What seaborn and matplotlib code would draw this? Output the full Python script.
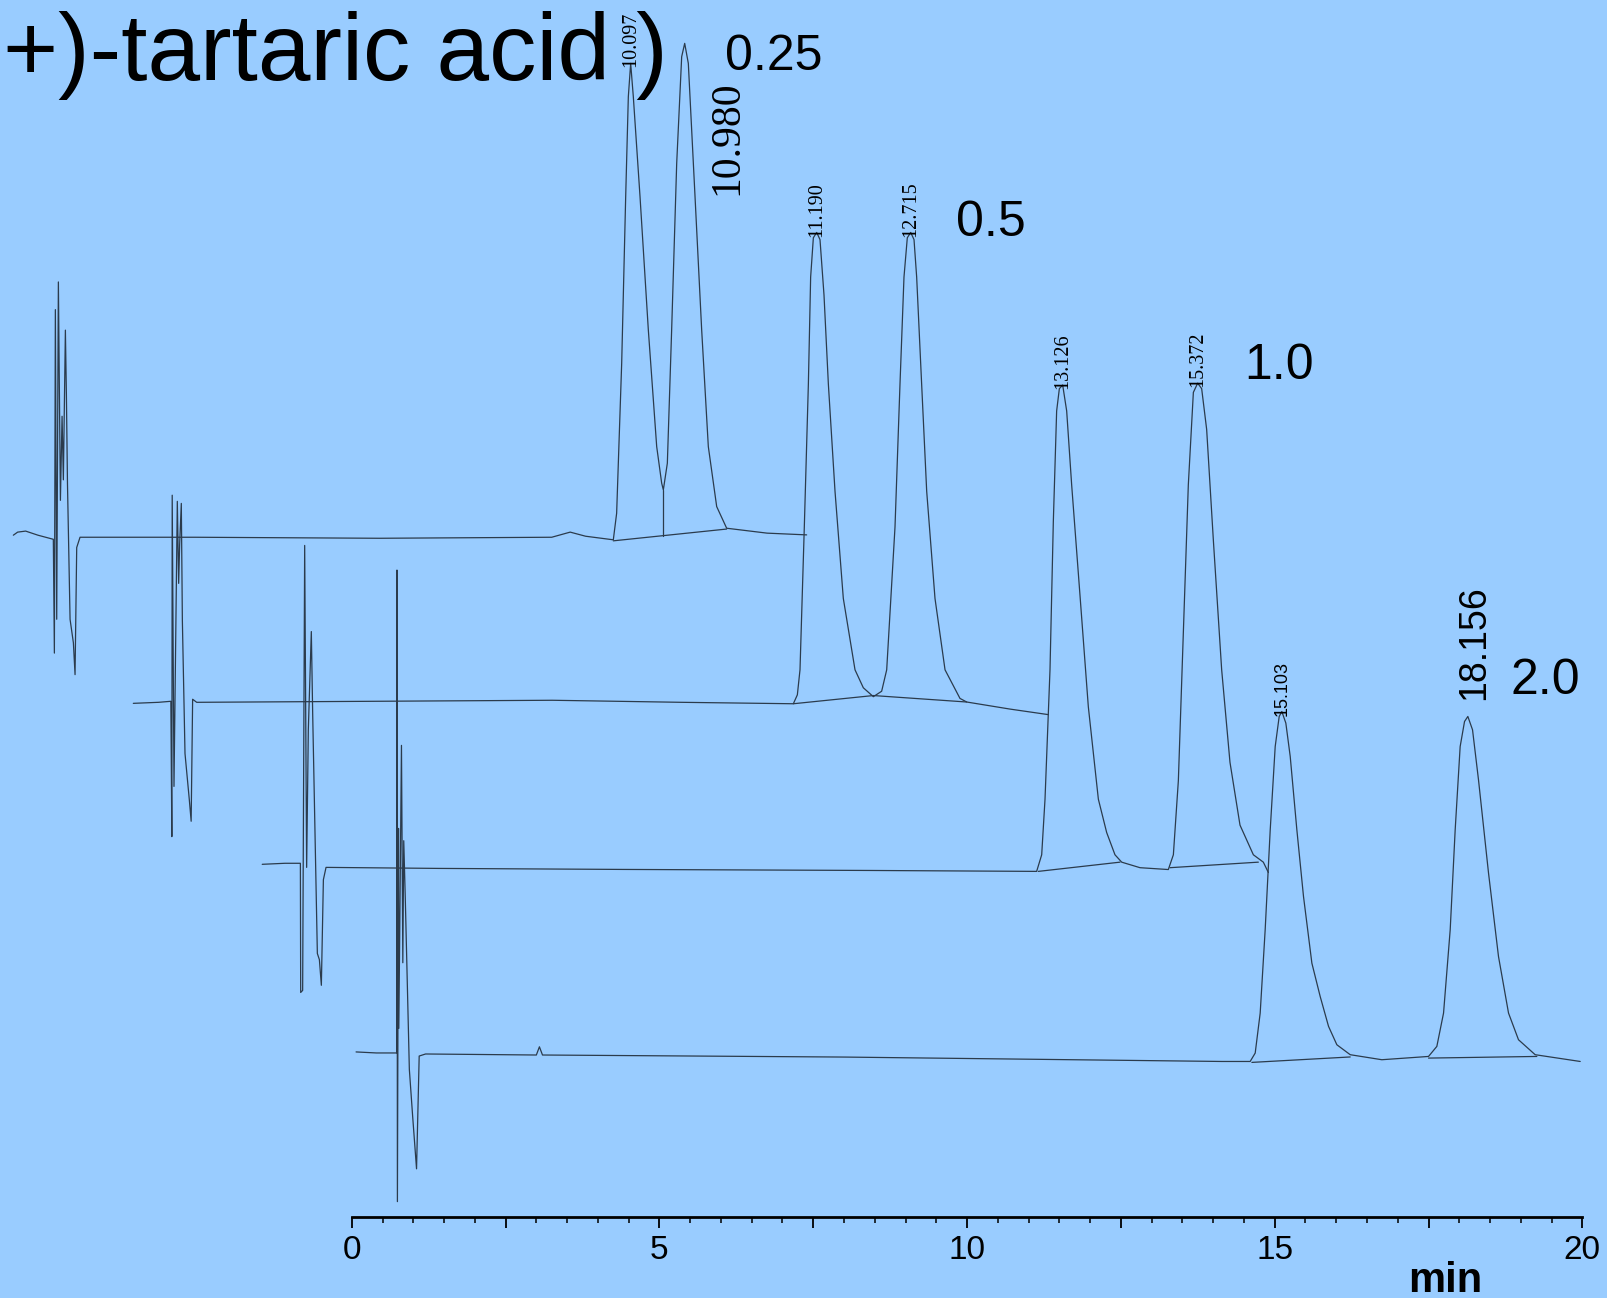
import pandas as pd
import matplotlib
matplotlib.use("Agg")
from matplotlib import pyplot as plt
from matplotlib.ticker import FixedLocator, FuncFormatter
import seaborn as sns

# concentration of each run, bottom-left shift (min) and vertical offset of each trace
conc_labels = ["0.25", "0.5", "1.0", "2.0"]
time_shift = [5.55, 3.64, 1.585, 0.0]
level = [663, 502, 341, 158]

# traces: own retention time (min) and detector signal
t1 = [0.05, 0.12, 0.25, 0.45, 0.70, 0.717, 0.733, 0.755, 0.782, 0.815, 0.842, 0.863, 0.896, 0.912, 0.93,
      0.972, 1.026, 1.053, 1.08, 1.134, 3.0, 6.0, 8.8, 9.1, 9.35, 9.801, 9.855, 9.937, 10.002, 10.045,
      10.083, 10.126, 10.235, 10.370, 10.506, 10.587, 10.614, 10.679, 10.749, 10.831, 10.912, 10.961,
      11.020, 11.129, 11.237, 11.345, 11.481, 11.643, 12.3, 12.943]
s1 = [2, 5, 6, 2, -2, -113, 222, -80, 249, 36, 118, 56, 202, 141, 52,
      -80, -103, -134, -10, 0, 0, -1, 0, 5, 1, -2.5, 23.4, 169.7, 332.2, 429.7,
      462.2, 429.7, 332.2, 202.2, 88.4, 52.7, 46.2, 72.2, 202.2, 364.7, 468.7, 481.7,
      462.2, 332.2, 202.2, 88.4, 29.9, 8.8, 4, 2.3]

t2 = [0.09, 0.5, 0.70, 0.716, 0.722, 0.751, 0.805, 0.827, 0.843, 0.870, 0.887, 0.930, 1.0, 1.03, 1.054,
      1.12, 4.0, 6.9, 9.0, 10.817, 10.882, 10.925, 10.995, 11.061, 11.098, 11.142, 11.196, 11.250, 11.315,
      11.386, 11.494, 11.629, 11.819, 11.954, 12.117, 12.252, 12.334, 12.469, 12.550, 12.615, 12.669,
      12.724, 12.778, 12.821, 12.902, 12.984, 13.119, 13.282, 13.525, 13.634, 14.338, 14.96]
s2 = [-1, 0, 1, -131, 202, -82, 196, 116, 154, 194, 80, -50, -95, -116, 3,
      0, 1, 2, 0, -1.4, 7.3, 31.7, 171.0, 310.3, 414.8, 453.1, 458.3, 451.3, 397.3,
      310.3, 205.8, 101.3, 31.7, 14.2, 5.5, 10.8, 31.7, 171.0, 310.3, 414.8, 453.1,
      458.3, 451.3, 414.8, 310.3, 205.8, 101.3, 31.7, 3.8, 0.3, -6.6, -12]

t3 = [0.13, 0.5, 0.75, 0.755, 0.787, 0.82, 0.852, 0.879, 0.928, 0.95, 1.026, 1.059, 1.091, 1.124, 1.167,
      3.0, 6.0, 10.0, 12.716, 12.798, 12.852, 12.933, 12.987, 13.041, 13.085, 13.139, 13.204, 13.285,
      13.421, 13.556, 13.719, 13.854, 13.989, 14.098, 14.396, 14.856, 14.938, 15.019, 15.100, 15.181,
      15.263, 15.333, 15.398, 15.479, 15.588, 15.723, 15.858, 16.021, 16.238, 16.400, 16.482]
s3 = [3, 4, 4, -122, -120, 314, 0, 134, 230, 150, -84, -90, -115, -12, 0,
      -1, -2, -3, -3.9, 12.3, 66.5, 192.7, 337.0, 445.2, 466.9, 470.5, 445.2, 373.1,
      264.9, 156.6, 66.5, 34.0, 12.3, 5.1, -0.3, -2.1, 12.3, 84.5, 228.8, 373.1,
      463.3, 472.3, 466.9, 427.2, 319.0, 192.7, 102.5, 41.2, 12.3, 5.1, -5]

t4 = [0.07, 0.4, 0.73, 0.735, 0.742, 0.76, 0.765, 0.808, 0.83, 0.845, 0.87, 0.936, 0.99, 1.053, 1.096,
      1.2, 3.0, 3.05, 3.1, 8.0, 14.141, 14.601, 14.683, 14.764, 14.845, 14.927, 15.008, 15.073, 15.116,
      15.181, 15.252, 15.360, 15.468, 15.604, 15.739, 15.875, 16.010, 16.227, 16.741, 17.500, 17.635,
      17.744, 17.852, 17.933, 18.014, 18.085, 18.139, 18.215, 18.312, 18.475, 18.637, 18.800, 18.962,
      19.233, 19.965]
s4 = [3, 2, 2, 473, -143, 221, 26, 302, 90, 209, 153, -14, -60, -111, -1,
      1, 0, 8, 0, -2, -6.3, -6.3, 1.9, 40.9, 122.1, 219.6, 300.9, 330.2, 335.0,
      323.7, 291.2, 219.6, 154.6, 89.6, 57.1, 27.9, 10.0, 0.3, -4.6, -1.4, 8.4,
      40.9, 122.1, 219.6, 300.9, 325.3, 330.2, 317.2, 268.4, 177.4, 96.1, 40.9, 14.9,
      0.3, -6.3]

traces_t = [t1, t2, t3, t4]
traces_s = [s1, s2, s3, s4]

# integration baselines and drop lines (trace index, times, signals)
base_trace = [0, 0, 1, 2, 2, 3, 3]
base_t = [[9.801, 11.643], [10.614, 10.614], [10.817, 12.117, 13.634], [12.743, 14.071],
          [14.883, 16.319], [14.629, 16.227], [17.5, 19.26]]
base_s = [[-3.5, 8.0], [46.2, 1.6], [-1.4, 6.6, 0.3], [-3.9, 5.1],
          [-0.3, 5.1], [-7.2, -1.9], [-3.0, -1.4]]

# small retention-time labels at peak tops
peak_names = ["10.097", "11.190", "12.715", "13.126", "15.372", "15.103"]
peak_trace = [0, 1, 1, 2, 2, 3]
peak_t = [10.083, 11.196, 12.724, 13.139, 15.333, 15.116]
peak_s = [462.2, 458.3, 458.3, 470.5, 472.3, 335.0]
peak_font = ["Liberation Serif"] * 5 + ["Liberation Sans"]

rows = []
for k in range(4):
    for t, s in zip(traces_t[k], traces_s[k]):
        rows.append({"run": f"trace{k}", "time": t - time_shift[k], "signal": s + level[k]})
for j, k in enumerate(base_trace):
    for t, s in zip(base_t[j], base_s[j]):
        rows.append({"run": f"base{j}", "time": t - time_shift[k], "signal": s + level[k]})
df = pd.DataFrame(rows)

sns.set_theme(style="white")
plt.rcParams["font.family"] = ["Liberation Sans", "DejaVu Sans"]
plt.rcParams["text.color"] = "black"
bg = "#99CCFF"
line_c = "#2b3b4c"

fig = plt.figure(figsize=(16.08, 12.98), dpi=100)
fig.patch.set_facecolor(bg)
ax = fig.add_axes([0, 0, 1, 1])
ax.set_facecolor(bg)

sns.lineplot(data=df, x="time", y="signal", units="run", estimator=None, sort=False,
             color=line_c, linewidth=0.9, legend=False, ax=ax)

ax.set_xlim(-5.7167, 20.4167)
ax.set_ylim(-79, 1187)
ax.set_xlabel("")
ax.set_ylabel("")
ax.set_yticks([])
for side in ["left", "right", "top"]:
    ax.spines[side].set_visible(False)
ax.spines["bottom"].set_position(("data", 0))
ax.spines["bottom"].set_bounds(0, 20)
ax.spines["bottom"].set_linewidth(2.0)
ax.spines["bottom"].set_color("black")
ax.xaxis.set_major_locator(FixedLocator([i * 2.5 for i in range(9)]))
ax.xaxis.set_minor_locator(FixedLocator([i * 0.5 for i in range(41)]))
ax.xaxis.set_major_formatter(FuncFormatter(lambda v, p: f"{v:.0f}" if abs(v % 5) < 1e-6 else ""))
ax.tick_params(axis="x", which="major", bottom=True, direction="out", length=8, width=1.3,
               color="black", pad=5, labelsize=24, labelcolor="black")
ax.tick_params(axis="x", which="minor", bottom=True, direction="out", length=4, width=1.1, color="black")

ax.text(17.167, -73, "min", fontsize=30, fontweight="bold", ha="left", va="baseline")

for name, k, t, s, fam in zip(peak_names, peak_trace, peak_t, peak_s, peak_font):
    ax.text(t - time_shift[k], s + level[k] - 4, name, rotation=90, ha="center", va="bottom",
            fontsize=14.5 if fam == "Liberation Serif" else 13, family=fam)

ax.text(6.1, 997, "10.980", rotation=90, ha="center", va="bottom", fontsize=30, family="Liberation Serif")
ax.text(18.233, 504, "18.156", rotation=90, ha="center", va="bottom", fontsize=27, family="Liberation Sans")

conc_x = [6.067, 9.817, 14.5, 18.833]
conc_y = [1119, 957, 817, 510]
for lab, x, y in zip(conc_labels, conc_x, conc_y):
    ax.text(x, y, lab, fontsize=36, ha="left", va="baseline")

fig.text(0.002, 1 - 78 / 1266, "+)-tartaric acid )", fontsize=68, ha="left", va="baseline")

fig.savefig("out.png", dpi=100, facecolor=bg)
